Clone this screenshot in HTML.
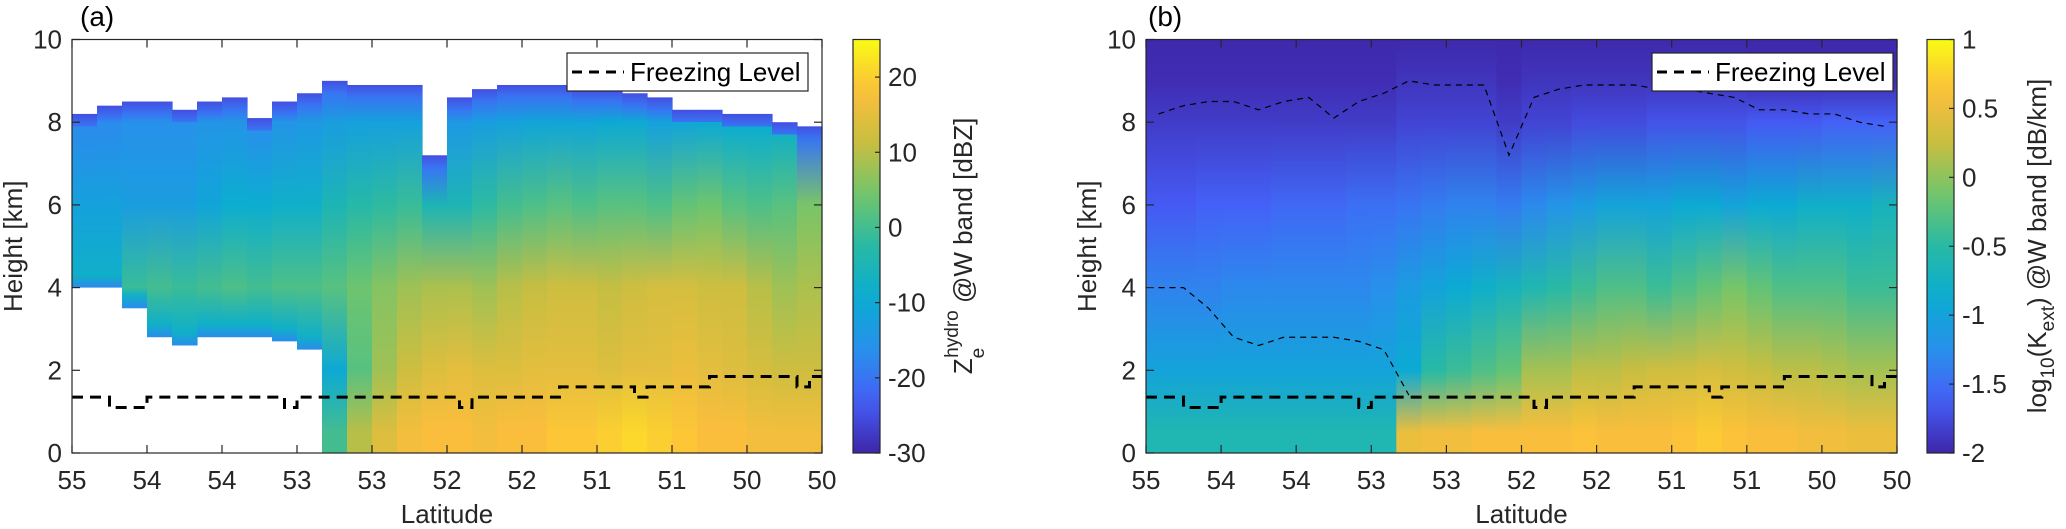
<!DOCTYPE html>
<html><head><meta charset="utf-8"><style>
html,body{margin:0;padding:0;background:#fff;}
svg{display:block;font-family:"Liberation Sans",sans-serif;}
</style></head><body>
<svg id="fig" width="2066" height="529" viewBox="0 0 2066 529">
<defs id="defs"></defs>
<g id="pa"></g>
<g id="pb"></g>
</svg>
<script>
// ---- data ----
const latTicks=[55,54.5,54,53.5,53,52.5,52,51.5,51,50.5,50];
const latTickLabels=["55","54","54","53","53","52","52","51","51","50","50"];
const hTicks=[0,2,4,6,8,10];
// 30 columns, each 1/6 deg, from 55 to 50
const cloudTop=[8.2,8.4,8.5,8.5,8.3,8.5,8.6,8.1,8.5,8.7,9.0,8.9,8.9,8.9,7.2,8.6,8.8,8.9,8.9,8.9,8.8,8.8,8.7,8.6,8.3,8.3,8.2,8.2,8.0,7.9];
const cloudBase=[4.0,4.0,3.5,2.8,2.6,2.8,2.8,2.8,2.7,2.5,0,0,0,0,0,0,0,0,0,0,0,0,0,0,0,0,0,0,0,0];
// reflectivity dBZ at 8,6,4,2,0.5 km
const ze8=[-17,-17,-16,-16,-16,-15,-15,-16,-15,-14,-13,-12,-12,-12,-13,-14,-13,-12,-11,-11,-11,-10,-10,-12,-11,-10,-9,-9,-7,-6];
const ze6=[-12,-12,-13,-13,-13,-11,-9,-9,-8,-8,-5,-3,-2,-1,-5,-5,-2,0,1,2,1,2,2,1,3,4,2,1,2,5];
const ze4=[-4,-2,-1,0,-1,0,1,0,1,1,2,4,6,8,9,9,8,10,11,12,12,11,12,13,13,12,12,10,8,9];
const ze2=[-8,-8,-8,-8,-8,-8,-8,-8,-8,-8,-10,2,8,12,14,15,14,14,15,15,15,14,15,15,16,15,14,13,12,12];
const ze05=[0,0,0,0,0,0,0,0,0,0,0,10,14,17,18,18,17,18,18,19,19,20,21,20,19,18,18,17,17,17];
// extinction log10 at 9,8,6,4,2,0.5 km
const k9=[-1.95,-1.95,-1.95,-1.95,-1.95,-1.95,-1.95,-1.95,-1.95,-1.95,-1.9,-1.9,-1.9,-1.9,-1.95,-1.9,-1.9,-1.9,-1.9,-1.9,-1.9,-1.9,-1.9,-1.9,-1.95,-1.95,-1.95,-1.95,-1.95,-1.95];
const k8=[-1.85,-1.85,-1.85,-1.85,-1.85,-1.85,-1.85,-1.85,-1.85,-1.85,-1.8,-1.8,-1.8,-1.8,-1.85,-1.8,-1.8,-1.75,-1.75,-1.75,-1.7,-1.7,-1.7,-1.7,-1.65,-1.65,-1.65,-1.6,-1.6,-1.6];
const k6=[-1.65,-1.65,-1.6,-1.6,-1.6,-1.55,-1.55,-1.55,-1.5,-1.5,-1.45,-1.4,-1.35,-1.35,-1.4,-1.3,-1.2,-1.1,-1.0,-1.0,-1.0,-0.9,-0.9,-1.0,-0.9,-0.9,-0.8,-0.8,-0.8,-0.7];
const k4=[-1.35,-1.35,-1.35,-1.3,-1.3,-1.3,-1.3,-1.3,-1.3,-1.25,-1.1,-1.0,-0.9,-0.8,-0.7,-0.6,-0.5,-0.4,-0.3,-0.3,-0.4,-0.3,-0.2,-0.1,-0.2,-0.3,-0.3,-0.3,-0.4,-0.4];
const k2=[-1.0,-1.0,-1.0,-1.0,-1.0,-1.0,-1.0,-1.0,-1.0,-1.0,-0.9,-0.5,-0.4,-0.3,-0.2,0.1,0.1,0.2,0.2,0.25,0.3,0.3,0.35,0.3,0.25,0.2,0.2,0.15,0.1,0.1];
const k05=[-0.6,-0.6,-0.6,-0.6,-0.6,-0.6,-0.6,-0.6,-0.6,-0.6,0.5,0.55,0.55,0.6,0.6,0.6,0.6,0.65,0.6,0.6,0.6,0.65,0.7,0.65,0.6,0.6,0.55,0.55,0.5,0.5];
// freezing level (60 points, 1/12 deg)
const freezing=[1.35,1.35,1.35,1.1,1.1,1.1,1.35,1.35,1.35,1.35,1.35,1.35,1.35,1.35,1.35,1.35,1.35,1.1,1.35,1.35,1.35,1.35,1.35,1.35,1.35,1.35,1.35,1.35,1.35,1.35,1.35,1.1,1.35,1.35,1.35,1.35,1.35,1.35,1.35,1.6,1.6,1.6,1.6,1.6,1.6,1.35,1.6,1.6,1.6,1.6,1.6,1.85,1.85,1.85,1.85,1.85,1.85,1.85,1.6,1.85];
const cbTicksA=[-30,-20,-10,0,10,20];
const cbTicksB=[-2,-1.5,-1,-0.5,0,0.5,1];

// ---- helpers ----
const NS="http://www.w3.org/2000/svg";
const parula=[[62,38,168],[70,94,248],[40,144,235],[10,172,210],[40,185,165],[113,197,108],[200,190,64],[252,190,60],[249,251,20]];
function cmap(t){t=Math.max(0,Math.min(1,t));const p=t*(parula.length-1);const i=Math.min(parula.length-2,Math.floor(p));const f=p-i;
 const c=parula[i].map((v,j)=>Math.round(v+(parula[i+1][j]-v)*f));return `rgb(${c[0]},${c[1]},${c[2]})`;}
function mk(tag,attrs,parent){const e=document.createElementNS(NS,tag);for(const k in attrs)e.setAttribute(k,attrs[k]);if(parent)parent.appendChild(e);return e;}
const defs=document.getElementById('defs');
const T=39.5,B=453;
function yS(h){return B-(h/10)*(B-T);}
let gid=0;
function grad(stops,y1,y2){const id='g'+(gid++);const g=mk('linearGradient',{id:id,gradientUnits:'userSpaceOnUse',x1:0,x2:0,y1:y1,y2:y2},defs);
 stops.forEach(s=>mk('stop',{offset:s[0],'stop-color':s[1]},g));return id;}

function axes(g,L,R,label,cbL,cbTicks,cbMin,cbMax,cbFmt,cbTitle,ylabX,titleX){
 const xS=lat=>L+(55-lat)/5*(R-L);
 const box=mk('rect',{x:L,y:T,width:R-L,height:B-T,fill:'none',stroke:'#262626','stroke-width':1.2},g);
 
 latTicks.forEach((v,i)=>{const x=xS(v);
  mk('line',{x1:x,x2:x,y1:B,y2:B-8,stroke:'#262626','stroke-width':1.2},g);
  mk('line',{x1:x,x2:x,y1:T,y2:T+8,stroke:'#262626','stroke-width':1.2},g);
  const t=mk('text',{x:x,y:489,'font-size':26,'text-anchor':'middle',fill:'#262626'},g);t.textContent=latTickLabels[i];
  });
 hTicks.forEach(v=>{const y=yS(v);
  mk('line',{x1:L,x2:L+8,y1:y,y2:y,stroke:'#262626','stroke-width':1.2},g);
  mk('line',{x1:R,x2:R-8,y1:y,y2:y,stroke:'#262626','stroke-width':1.2},g);
  const t=mk('text',{x:L-10,y:y+9,'font-size':26,'text-anchor':'end',fill:'#262626'},g);t.textContent=v;
  });
 const xl=mk('text',{x:(L+R)/2,y:523,'font-size':26,'text-anchor':'middle',fill:'#262626'},g);xl.textContent='Latitude';
 
 const yl=mk('text',{x:0,y:0,'font-size':26,'text-anchor':'middle',fill:'#262626',transform:`translate(${ylabX},${(T+B)/2}) rotate(-90)`},g);yl.textContent='Height [km]';
 
 const pl=mk('text',{x:titleX,y:26,'font-size':28,fill:'#000'},g);pl.textContent=label;
 
 const st=[];for(let i=0;i<=20;i++)st.push([i/20,cmap(1-i/20)]);
 const cid=grad(st,T,B);
 const cb=mk('rect',{x:cbL,y:T,width:27,height:B-T,fill:`url(#${cid})`,stroke:'#262626','stroke-width':1.2},g);
 
 cbTicks.forEach(v=>{const y=B-(v-cbMin)/(cbMax-cbMin)*(B-T);
  mk('line',{x1:cbL+27,x2:cbL+22,y1:y,y2:y,stroke:'#262626','stroke-width':1.2},g);
  const t=mk('text',{x:cbL+35,y:y+9,'font-size':26,fill:'#262626'},g);t.textContent=cbFmt(v);
  });
 
 g.appendChild(cbTitle);
 return xS;
}
function legend(g,x,y){
 const lg=mk('g',{},g);
 mk('rect',{x:x,y:y,width:241,height:38,fill:'#fff',stroke:'#262626','stroke-width':1.2},lg);
 mk('line',{x1:x+5,x2:x+57,y1:y+19,y2:y+19,stroke:'#000','stroke-width':3,'stroke-dasharray':'10 7'},lg);
 const t=mk('text',{x:x+63,y:y+28,'font-size':26,fill:'#000'},lg);t.textContent='Freezing Level';
 
}
function fl(g,xS){let d='';freezing.forEach((h,i)=>{const x0=xS(55-i/12),x1=xS(55-(i+1)/12),y=yS(h);d+=(i?'L':'M')+x0+','+y+'L'+x1+','+y;});
 const p=mk('path',{d:d,fill:'none',stroke:'#000','stroke-width':3,'stroke-dasharray':'11 7'},g);
 }

// ---- panel a ----
(function(){
 const g=document.getElementById('pa');const L=72,R=822;
 const xS=lat=>L+(55-lat)/5*(R-L);
 const zn=v=>(v+30)/55;
 const hm=mk('g',{},g);
 cloudTop.forEach((top,i)=>{
  const base=cloudBase[i];const y1=yS(top),y2=yS(base);
  let lv=[[top,-25],[top-0.3,-20],[8,ze8[i]],[6,ze6[i]],[4,ze4[i]],[2,ze2[i]],[0.5,ze05[i]],[0,ze05[i]]].filter(s=>s[0]<=top&&s[0]>=base+0.3);
  if(base>0){lv.push([base+0.3,-8]);lv.push([base,-17]);}
  const id=grad(lv.map(s=>[(top-s[0])/(top-base),cmap(zn(s[1]))]),y1,y2);
  const x0=xS(55-i/6),x1=xS(55-(i+1)/6);
  const r=mk('rect',{x:x0,y:y1,width:x1-x0+0.6,height:y2-y1,fill:`url(#${id})`},hm);
  
 });
 fl(g,xS);
 const ct=document.createElementNS(NS,'text');
 ct.setAttribute('transform','translate(972,246) rotate(-90)');ct.setAttribute('font-size','26');ct.setAttribute('text-anchor','middle');ct.setAttribute('fill','#262626');
 ct.innerHTML='Z<tspan font-size="19" dy="12">e</tspan><tspan font-size="19" dx="-10" dy="-26">hydro</tspan><tspan dy="14"> @W band [dBZ]</tspan>';
 axes(g,L,R,'(a)',853,cbTicksA,-30,25,v=>String(v),ct,22,80);
 legend(g,567,53);
})();

// ---- panel b ----
(function(){
 const g=document.getElementById('pb');const L=1146,R=1897;
 const xS=lat=>L+(55-lat)/5*(R-L);
 const kn=v=>(v+2)/3;
 const hm=mk('g',{},g);
 cloudTop.forEach((top,i)=>{
  const lv=[[10,-1.98],[9,k9[i]],[8,k8[i]],[6,k6[i]],[4,k4[i]],[2,k2[i]],[0.5,k05[i]],[0,k05[i]]];
  const id=grad(lv.map(s=>[(10-s[0])/10,cmap(kn(s[1]))]),T,B);
  const x0=xS(55-i/6),x1=xS(55-(i+1)/6);
  const r=mk('rect',{x:x0,y:T,width:x1-x0+0.6,height:B-T,fill:`url(#${id})`},hm);
  
 });
 let d='';cloudTop.forEach((h,i)=>{d+=(i?'L':'M')+xS(55-(i+0.5)/6)+','+yS(h);});
 const c1=mk('path',{d:d,fill:'none',stroke:'#000','stroke-width':1.2,'stroke-dasharray':'6 5'},g);
 
 let d2='';cloudBase.forEach((h,i)=>{if(i<=10)d2+=(i?'L':'M')+xS(55-(i+0.5)/6)+','+yS(Math.max(h,1.4));});
 const c2=mk('path',{d:d2,fill:'none',stroke:'#000','stroke-width':1.2,'stroke-dasharray':'6 5'},g);
 
 fl(g,xS);
 const ct=document.createElementNS(NS,'text');
 ct.setAttribute('transform','translate(2046,246) rotate(-90)');ct.setAttribute('font-size','26');ct.setAttribute('text-anchor','middle');ct.setAttribute('fill','#262626');
 ct.innerHTML='log<tspan font-size="19" dy="8">10</tspan><tspan dy="-8">(K</tspan><tspan font-size="19" dy="8">ext</tspan><tspan dy="-8">) @W band [dB/km]</tspan>';
 axes(g,L,R,'(b)',1927,cbTicksB,-2,1,v=>String(v),ct,1096,1148);
 legend(g,1652,53);
})();
</script>
</body></html>
